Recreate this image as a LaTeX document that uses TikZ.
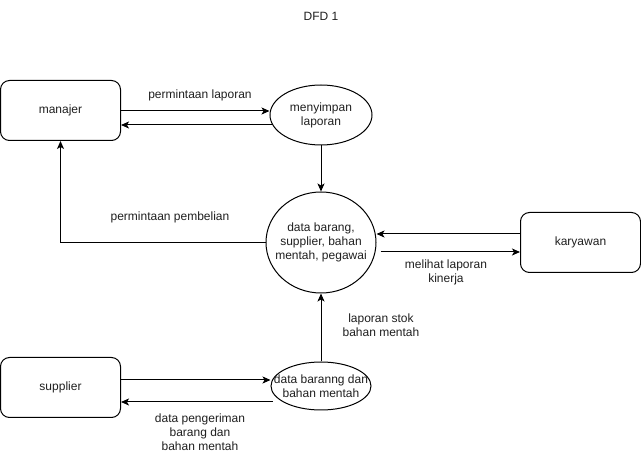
\documentclass[tikz,border=0pt]{standalone}
\usepackage{fontspec}
\setmainfont{Liberation Sans}
\usetikzlibrary{shapes.geometric,arrows.meta}
\definecolor{ink}{HTML}{000000}
\definecolor{txt}{HTML}{1F1F1F}
\tikzset{
  entity/.style={draw=ink, line width=1pt, rounded corners=9pt, minimum width=120pt, minimum height=60pt, inner sep=0pt, text=txt, font=\fontsize{12}{14}\selectfont},
  proc/.style={draw=ink, line width=1pt, ellipse, inner sep=0pt},
  lab/.style={text=txt, font=\fontsize{12}{14}\selectfont, align=center, inner sep=0pt},
  flow/.style={draw=ink, line width=1pt, -{Stealth[length=8pt,width=7pt,inset=2pt]}},
}

\begin{document}
\begin{tikzpicture}[x=1pt,y=-1pt]
  \useasboundingbox (0,0) rectangle (641,462);
  \node[lab] (judul) at (321,16) {DFD 1};

  % entitas luar
  \node[entity] (manajer) at (60.5,110.5) {manajer};
  \node[entity] (karyawan) at (580.5,242.5) {karyawan};
  \node[entity] (supplier) at (60.5,387.5) {supplier};

  % proses
  \node[proc,minimum width=102pt,minimum height=60pt,label={[lab]center:{menyimpan\\laporan}}] (simpan) at (321,115) {};
  \node[proc,minimum width=110pt,minimum height=101pt,label={[lab]center:{data barang,\\supplier, bahan\\mentah, pegawai}}] (pusat) at (321,242.5) {};
  \node[proc,minimum width=100pt,minimum height=48pt,label={[lab]center:{data baranng dan\\bahan mentah}}] (baku) at (321,386) {};

  \draw[flow] (manajer.east |- 0,111) -- (simpan.west |- 0,111);
  \draw[flow] ([xshift=3pt]simpan.west |- 0,125) -- (manajer.east |- 0,125);
  \node[lab] (lblLaporan) at (200,95) {permintaan laporan};

  \draw[flow] (simpan.south) -- (pusat.north);

  \draw[flow] (pusat.west) -| (manajer.south);
  \node[lab] (lblBeli) at (170,217) {permintaan pembelian};

  \draw[flow] (karyawan.west |- 0,234) -- (pusat.east |- 0,234);
  \draw[flow] ([xshift=4pt]pusat.east |- 0,252) -- (karyawan.west |- 0,252);
  \node[lab] (lblKinerja) at (446,272) {melihat laporan\\kinerja};

  \draw[flow] (baku.north) -- (pusat.south);
  \node[lab] (lblStok) at (381,325) {laporan stok\\bahan mentah};

  \draw[flow] (supplier.east |- 0,380) -- (baku.west |- 0,380);
  \draw[flow] ([xshift=2pt]baku.west |- 0,402) -- (supplier.east |- 0,402);
  \node[lab] (lblKirim) at (200,432) {data pengeriman\\barang dan\\bahan mentah};
\end{tikzpicture}
\end{document}
